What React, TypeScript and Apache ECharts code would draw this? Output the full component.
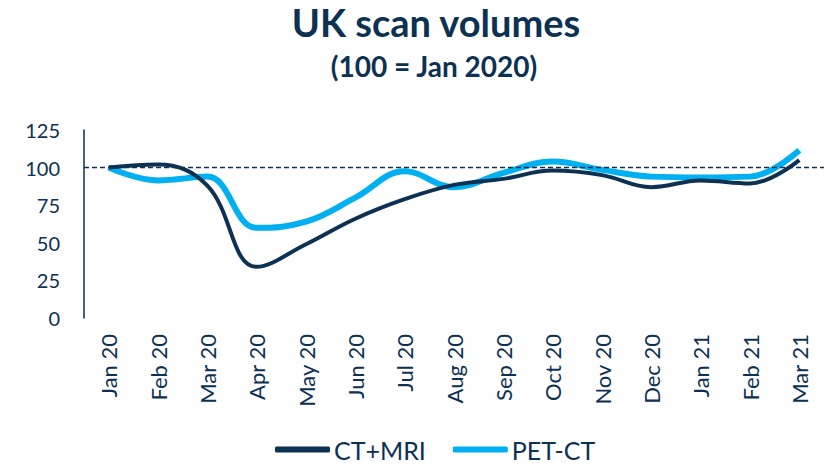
import React, { useEffect, useRef } from "react";
import * as echarts from "echarts";

const categories = ["Jan 20","Feb 20","Mar 20","Apr 20","May 20","Jun 20","Jul 20","Aug 20","Sep 20","Oct 20","Nov 20","Dec 20","Jan 21","Feb 21","Mar 21"];
const ctMri = [100, 102, 88, 34, 49, 66, 79, 88.5, 92.5, 98, 95, 87, 91.5, 89.5, 105];
const petCt = [100, 91.5, 94, 60, 64, 80, 97.5, 87, 96.5, 104, 98.5, 94, 93.5, 94, 111.5];
const yTicks = { min: 0, max: 125, interval: 25 };
const baseline = 100;
const titleText = "UK scan volumes";
const subtitleText = "(100 = Jan 2020)";

const NAVY = "#0c3152";
const CYAN = "#00b0f0";
const FONT = "Lato, 'Open Sans', sans-serif";

export default function App() {
  const ref = useRef<HTMLDivElement>(null);
  useEffect(() => {
    const chart = echarts.init(ref.current!, null, { renderer: "svg" });
    chart.setOption({
      animation: false,
      graphic: [
        {
          type: "text",
          x: 436,
          y: 3,
          style: { text: titleText, fill: NAVY, font: `bold 38px ${FONT}`, textAlign: "center", textVerticalAlign: "top" },
        },
        {
          type: "text",
          x: 434,
          y: 52,
          style: { text: subtitleText, fill: NAVY, font: `bold 28px ${FONT}`, textAlign: "center", textVerticalAlign: "top" },
        },
      ],
      legend: {
        top: 437,
        left: 275,
        padding: 0,
        itemWidth: 55,
        itemHeight: 6,
        itemGap: 27,
        icon: "roundRect",
        textStyle: { fontFamily: FONT, fontSize: 25, color: NAVY, padding: [0, 0, 0, -1] },
        data: ["CT+MRI", "PET-CT"],
      },
      grid: { left: 84, right: 9, top: 130, bottom: 147 },
      xAxis: {
        type: "category",
        data: categories,
        boundaryGap: true,
        axisLine: { show: false },
        axisTick: { show: false },
        axisLabel: { rotate: 90, fontFamily: FONT, fontSize: 22, color: NAVY, margin: 16 },
      },
      yAxis: {
        type: "value",
        min: yTicks.min,
        max: yTicks.max,
        interval: yTicks.interval,
        splitLine: { show: false },
        axisLine: { show: true, lineStyle: { color: NAVY, width: 1.5 } },
        axisTick: { show: false },
        axisLabel: { fontFamily: FONT, fontSize: 20, color: NAVY, margin: 24 },
      },
      series: [
        {
          name: "CT+MRI",
          type: "line",
          data: ctMri,
          smooth: 0.4,
          showSymbol: false,
          symbol: "none",
          lineStyle: { color: NAVY, width: 4 },
          itemStyle: { color: NAVY },
          z: 3,
          markLine: {
            silent: true,
            symbol: "none",
            label: { show: false },
            lineStyle: { color: NAVY, type: [5, 3], width: 1.3 },
            data: [{ yAxis: baseline }],
          },
        },
        {
          name: "PET-CT",
          type: "line",
          data: petCt,
          smooth: 0.4,
          showSymbol: false,
          symbol: "none",
          lineStyle: { color: CYAN, width: 6 },
          itemStyle: { color: CYAN },
          z: 2,
        },
      ],
    });
    return () => chart.dispose();
  }, []);
  return <div ref={ref} style={{ position: "absolute", left: 0, top: 0, width: 833, height: 465 }} />;
}
